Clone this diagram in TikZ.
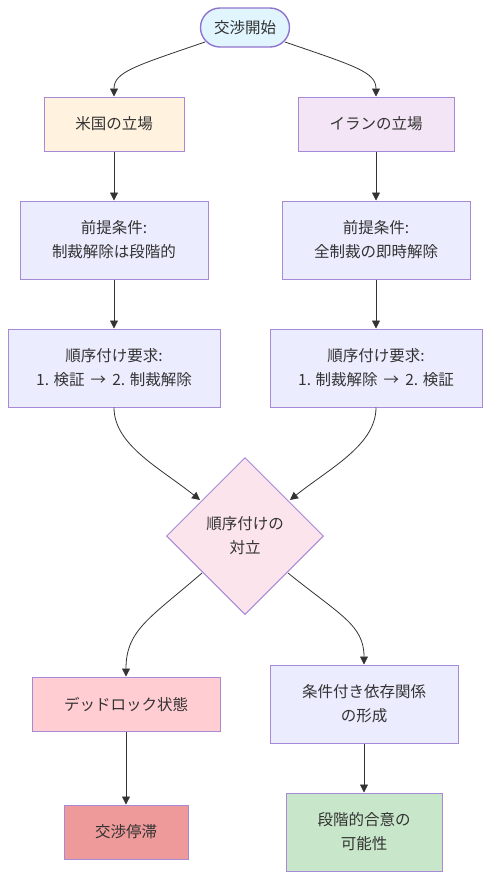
\documentclass[tikz,border=0pt]{standalone}
\usepackage{fontspec}
\setmainfont{Noto Sans CJK JP}
\usetikzlibrary{shapes.geometric,arrows.meta}
\definecolor{bord}{HTML}{A68AD8}
\definecolor{bordS}{HTML}{8F74CF}
\definecolor{txt}{HTML}{333333}
\definecolor{edge}{HTML}{333333}
\definecolor{defFill}{HTML}{ECECFF}
\definecolor{startFill}{HTML}{E1F5FE}
\definecolor{usFill}{HTML}{FFF3E0}
\definecolor{irFill}{HTML}{F3E5F5}
\definecolor{diaFill}{HTML}{FCE4EC}
\definecolor{dlFill}{HTML}{FFCDD2}
\definecolor{stFill}{HTML}{EF9A9A}
\definecolor{okFill}{HTML}{C8E6C9}
\tikzset{
  x=1pt,y=1pt,
  every node/.style={font=\fontsize{15.5}{24}\selectfont, text=txt, align=center, inner sep=0pt},
  boxnode/.style={draw=bord, line width=1pt, rectangle, fill=defFill},
  startnode/.style={draw=bordS, line width=1.4pt, rounded corners=19.5pt, fill=startFill, minimum width=89pt, minimum height=39pt},
  dianode/.style={draw=bord, line width=1pt, diamond, fill=diaFill, minimum width=157pt, minimum height=157pt},
  conn/.style={draw=edge, line width=0.8pt, -{Triangle[length=8pt,width=8pt]}},
}
\begin{document}
\begin{tikzpicture}
\useasboundingbox (0,0) rectangle (490,-879);
\node[startnode] (start) at (245,-27.5) {交渉開始};
\node[boxnode, fill=usFill, minimum width=140pt, minimum height=54pt] (us) at (114,-124) {米国の立場};
\node[boxnode, fill=irFill, minimum width=156pt, minimum height=54pt] (ir) at (376,-124) {イランの立場};
\node[boxnode, minimum width=188pt, minimum height=78pt] (preL) at (114,-240) {前提条件:\\制裁解除は段階的};
\node[boxnode, minimum width=188pt, minimum height=78pt] (preR) at (376,-240) {前提条件:\\全制裁の即時解除};
\node[boxnode, minimum width=212pt, minimum height=78pt] (seqL) at (114,-368) {順序付け要求:\\1. 検証 \,→\, 2. 制裁解除};
\node[boxnode, minimum width=212pt, minimum height=78pt] (seqR) at (376,-368) {順序付け要求:\\1. 制裁解除 \,→\, 2. 検証};
\node[dianode] (dia) at (245,-536) {順序付けの\\対立};
\node[boxnode, fill=dlFill, minimum width=188pt, minimum height=54pt] (dl) at (126,-704) {デッドロック状態};
\node[boxnode, fill=stFill, minimum width=124pt, minimum height=54pt] (st) at (126,-832) {交渉停滞};
\node[boxnode, minimum width=188pt, minimum height=78pt] (cond) at (364,-704) {条件付き依存関係\\の形成};
\node[boxnode, fill=okFill, minimum width=156pt, minimum height=78pt] (ok) at (364,-832) {段階的合意の\\可能性};
\coordinate (s1) at (205,-42);
\coordinate (s2) at (285,-42);
\coordinate (d1) at (200,-500);
\coordinate (d2) at (290,-500);
\coordinate (d3) at (202,-573);
\coordinate (d4) at (288,-573);
\draw[conn] (s1) .. controls (135,-66) and (114,-72) .. (us.north);
\draw[conn] (s2) .. controls (355,-66) and (376,-72) .. (ir.north);
\draw[conn] (us) -- (preL);
\draw[conn] (ir) -- (preR);
\draw[conn] (preL) -- (seqL);
\draw[conn] (preR) -- (seqR);
\draw[conn] (seqL.south) .. controls (114,-445) and (160,-468) .. (d1);
\draw[conn] (seqR.south) .. controls (376,-445) and (330,-468) .. (d2);
\draw[conn] (d3) .. controls (150,-618) and (126,-630) .. (dl.north);
\draw[conn] (d4) .. controls (340,-615) and (364,-625) .. (cond.north);
\draw[conn] (dl) -- (st);
\draw[conn] (cond) -- (ok);
\end{tikzpicture}
\end{document}
